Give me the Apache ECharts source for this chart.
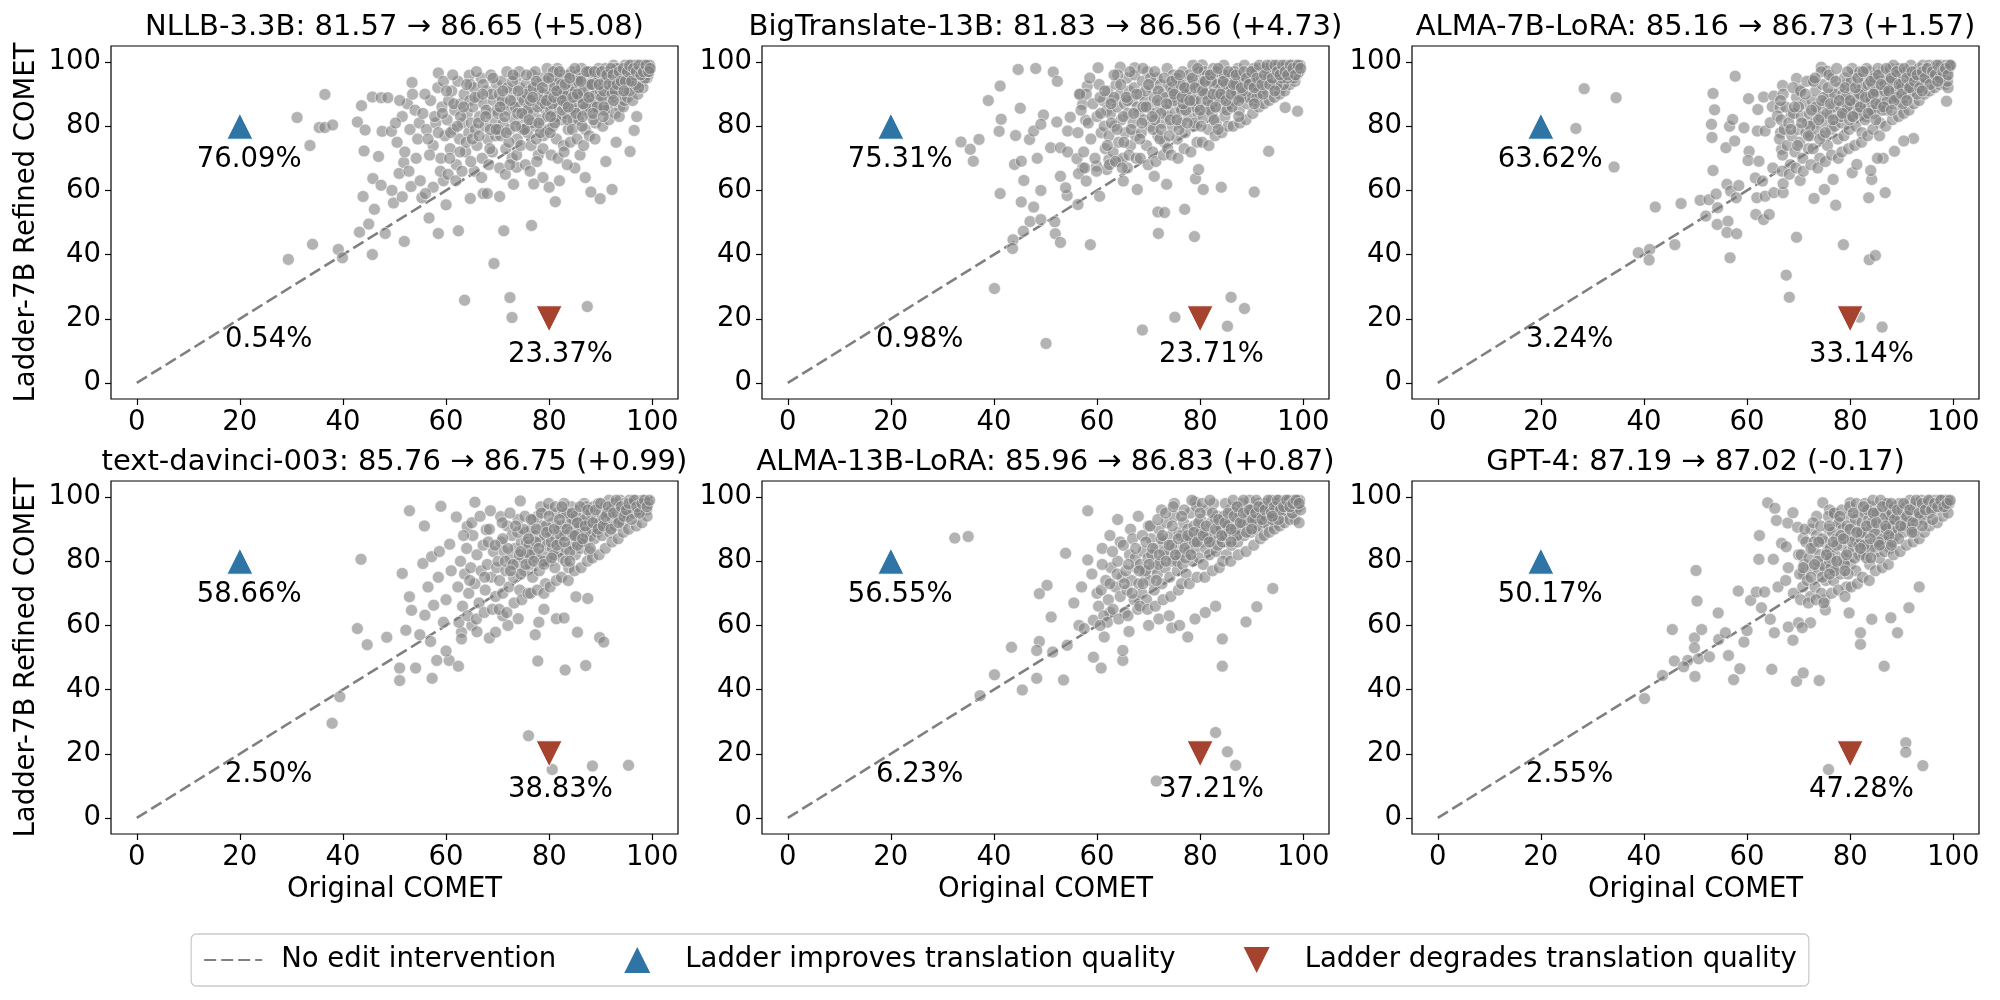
<!DOCTYPE html>
<html>
<head>
<meta charset="utf-8">
<script src="https://cdn.jsdelivr.net/npm/echarts@6/dist/echarts.min.js"></script>
<style>
  html, body { margin: 0; padding: 0; background: #fff; }
  #chart { width: 2000px; height: 1000px; }
</style>
</head>
<body>
<div id="chart"></div>
<script>
// panel titles: model name, COMET before and after refinement
const models = ["NLLB-3.3B", "BigTranslate-13B", "ALMA-7B-LoRA", "text-davinci-003", "ALMA-13B-LoRA", "GPT-4"];
const cometBefore = [81.57, 81.83, 85.16, 85.76, 85.96, 87.19];
const cometAfter = [86.65, 86.56, 86.73, 86.75, 86.83, 87.02];

// share of sentences improved / unchanged / degraded
const improvePct = ["76.09%", "75.31%", "63.62%", "58.66%", "56.55%", "50.17%"];
const tiePct = ["0.54%", "0.98%", "3.24%", "2.50%", "6.23%", "2.55%"];
const degradePct = ["23.37%", "23.71%", "33.14%", "38.83%", "37.21%", "47.28%"];

const axisTicks = [0, 20, 40, 60, 80, 100];

// [original COMET, refined COMET] per sentence
const nllbPts = [
  [36.5,89.9],[31.1,82.7],[35.4,79.6],[36.5,79.6],[38,80.4],[33.6,74],[29.4,38.5],[34.1,43.2],[39.1,41.6],[39.9,39],
  [45.7,40],[43.2,47],[45,49.5],[48.2,46.6],[51.9,44.1],[58.5,46.6],[62.4,47.4],[71.2,47.4],[76.6,49.1],[69.3,37.2],
  [63.6,25.8],[72.4,26.6],[72.8,20.4],[87.4,23.8],[81.2,56.5],[88.1,59.5],[89.9,57.4],[92.2,60.3],[95.7,72.1],[96.5,78.7],
  [78.8,64],[73.7,67.2],[73.1,61.9],[70.4,58.1],[67.2,59],[68,59],[64.7,57.5],[60,55.5],[56.7,51.4],[43.6,86.4],
  [45.7,89.1],[47.4,88.9],[48.7,88.9],[42.8,81.3],[44.3,78.8],[47.6,78.4],[49.4,78.4],[44.1,72.3],[46.9,70.6],[45.8,63.7],
  [47.4,61.6],[43.9,58.1],[46.1,54.1],[49.8,56.1],[50.9,65.3],[51.8,68.7],[53.2,61.2],[55.3,57.7],[53.4,93.6],[58.5,96.6],
  [64.5,95.9],[51.5,83],[52.5,87],[53,79],[54,85],[54.5,76],[50.5,75],[52,72],[53.5,90],[54.8,81],
  [51,88],[50.2,81],[52.8,66],[54.2,70],[55,63],[49.5,60],[51.5,58],[57.5,61],[59.5,63],[56,59],
  [82,63],[85,67],[87,64],[91,69],[80,61],[83.5,68],[77,62],[86,71],[93,75],[97,83],
  [55.5,84],[56.2,79],[57,88],[57.5,74],[58,81],[58.4,92],[59,70],[59.2,86],[59.8,77],[56.8,71],[58.9,66],[55.9,90],[57.8,83],[59.5,94],[56.5,76],
  [60.2,82],[60.5,88],[60.8,73],[61.1,91],[61.4,79],[61.7,85],[62,68],[62.3,94],[62.6,76],[62.9,87],[63.2,81],[63.5,90],[63.8,72],[64.1,84],[64.4,78],
  [64.7,93],[60.4,65],[61.9,63],[63.1,66],[64.6,88],[61.3,96],[62.8,83],[63.9,75],[64.9,81],[60.9,78],
  [65.2,86],[65.4,92],[65.7,79],[66,74],[66.2,89],[66.5,83],[66.8,95],[67,70],[67.3,87],[67.6,80],[67.9,91],[68.1,76],[68.4,84],[68.7,96],[69,72],
  [69.2,88],[69.5,81],[69.8,93],[65.5,66],[66.9,64],[68.3,68],[69.6,77],[65.9,97],[67.8,85],[66.3,81],[68.9,90],[69.9,85],[65.1,76],[67.2,93],[68.6,79],
  [70.1,84],[70.3,90],[70.6,77],[70.8,94],[71.1,81],[71.3,87],[71.6,73],[71.8,97],[72.1,85],[72.3,79],[72.6,91],[72.8,70],[73.1,88],[73.3,82],[73.6,95],
  [73.8,76],[74.1,86],[74.3,92],[74.6,80],[74.8,89],[70.4,67],[71.5,65],[72.4,68],[73.7,71],[74.5,74],[70.9,88],[71.9,92],[72.9,94],[73.4,86],[74.2,97],
  [70.2,79],[71.4,83],[72.2,75],[73.9,84],[74.9,79],
  [75.1,88],[75.3,83],[75.5,93],[75.8,78],[76,86],[76.2,91],[76.5,74],[76.7,96],[77,84],[77.2,89],[77.4,80],[77.7,93],[77.9,71],[78.2,87],[78.4,82],
  [78.6,95],[78.9,77],[79.1,90],[79.4,85],[79.6,98],[75.4,68],[76.3,66],[77.6,69],[78.8,73],[79.8,79],[75.7,90],[76.6,81],[77.3,97],[78.1,91],[79.3,94],
  [75.9,85],[76.9,92],[77.8,86],[78.5,88],[79.7,83],[75.2,79],[76.4,88],[77.5,76],[78.3,78],[79.2,87],
  [80.1,90],[80.3,85],[80.5,95],[80.7,80],[81,88],[81.2,93],[81.4,76],[81.6,98],[81.9,86],[82.1,91],[82.3,82],[82.5,96],[82.8,74],[83,89],[83.2,84],
  [83.4,94],[83.7,79],[83.9,92],[84.2,87],[84.4,97],[84.7,82],[84.9,90],[80.4,71],[81.7,70],[82.9,72],[84.1,75],[80.9,92],[81.3,83],[82.2,88],[83.5,91],
  [84.6,93],[80.2,78],[81.8,95],[82.6,85],[83.3,87],[84.8,85],[80.6,87],[81.1,81],[82.4,93],[83.8,96],[84.3,90],[80.8,97],[82.7,90],[83.6,82],[84.5,79],
  [85.1,91],[85.3,87],[85.5,96],[85.7,82],[85.9,93],[86.1,89],[86.3,98],[86.5,85],[86.8,92],[87,79],[87.2,95],[87.4,88],[87.6,91],[87.9,84],[88.1,97],
  [88.3,90],[88.5,86],[88.7,94],[89,81],[89.2,92],[89.4,88],[89.6,98],[89.8,95],[85.4,76],[86.7,74],[87.8,77],[88.9,76],[85.2,84],[86,95],[86.9,89],
  [87.5,93],[88.2,87],[89.1,90],[89.9,91],[85.8,89],[86.4,80],[87.1,86],[88.4,96],[89.5,85],[85.6,94],[86.6,91],[87.7,97],[88.6,82],[89.3,94],[88,93],
  [90.1,92],[90.3,96],[90.5,88],[90.7,94],[90.9,98],[91.1,85],[91.3,93],[91.5,90],[91.7,97],[91.9,87],[92.1,95],[92.3,92],[92.5,99],[92.7,89],[92.9,94],
  [93.1,96],[93.3,91],[93.5,98],[93.7,86],[93.9,93],[94.1,97],[94.3,90],[94.5,95],[94.7,99],[94.9,92],[90.4,80],[91.6,82],[92.8,84],[93.6,83],[94.4,86],
  [90.2,89],[91,95],[91.8,91],[92.6,96],[93.4,94],[94.2,93],[94.8,97],[90.6,91],[91.4,97],[92.2,90],[93,98],[93.8,95],[94.6,88],[90.8,85],[92.4,93],
  [95.1,96],[95.3,93],[95.5,98],[95.7,95],[95.9,99],[96.1,91],[96.3,97],[96.5,94],[96.7,99],[96.9,96],[97.1,93],[97.3,98],[97.5,95],[97.7,99],[97.9,97],
  [98.1,94],[98.3,99],[98.5,96],[98.7,98],[98.9,97],[99.1,99],[99.3,98],[99.5,99],[95.2,89],[96.2,88],[97.2,90],[98.2,92],[99,95],[95.6,91],[96.8,93],
  [97.6,96],[98.4,97],[99.2,96],[95.4,94],[96.6,96],[97.4,92],[98.6,95],[99.4,97],[95.8,97],[98,98],
  [58.5,78],[59.3,84],[60.1,91],[60.7,70],[61.5,87],[62.2,80],[62.7,72],[63.4,86],[64,93],[64.8,69],[65.6,89],[66.4,77],[67.1,90],[67.7,83],[68.5,73],
  [69.1,95],[69.7,79],[70.5,86],[71,91],[71.7,78],[72.5,88],[73,96],[73.5,80],[74,91],[74.7,84],[75.6,96],[76.1,82],[76.8,89],[77.5,94],[78,81],
  [78.7,92],[79.5,88],[79.9,95],[80.3,83],[80.9,89],[81.5,91],[82,97],[82.6,88],[83.1,93],[83.7,86],[84,95],[84.6,89],[85,98],[85.5,90],[86.2,94],
  [86.6,87],[87.3,97],[87.7,89],[88.3,93],[88.8,97],[89.3,86],[89.7,93],[90.2,97],[90.6,86],[91.2,96],[91.6,93],[92,98],[92.4,96],[92.8,91],[93.2,93],
  [93.6,97],[94,94],[94.4,98],[94.8,94],[95.2,97],[95.6,99],[96,94],[96.4,98],[96.9,97],[97.4,99],[97.8,96],[98.3,97],[98.8,99],[99.3,97],[99.6,98],
  [86.5,83],[88.5,84],[90.5,83],[92.5,88],[94.5,91]
];

const bigtransPts = [
  [44.7,97.7],[48.1,98],[51.5,96.9],[52.3,94],[41.2,92.5],[38.9,88],[45.1,85.6],[41.4,82.2],[41,78.4],[44.2,77.1],
  [46.9,75.9],[47.7,78.5],[49.6,83.5],[49.1,80.6],[52.2,81.3],[33.6,75.1],[37.1,75.9],[35.4,72.8],[36,69.1],[44,68.1],
  [45.3,69.1],[48.4,70],[45.8,63.1],[41.2,59],[49.1,60],[45.3,56.4],[47.7,54.8],[47,50.3],[49.1,50.9],[51.8,50.2],
  [51.9,46.5],[52.9,43.8],[45.7,47.3],[43.7,44.6],[43.6,41.9],[40.1,29.4],[50.1,12.3],[58.7,43.1],[54.2,58.4],[56.3,55.6],
  [60.5,58.2],[71.8,53.3],[73.1,53.1],[77,54.1],[71.9,46.6],[78.9,45.6],[67.8,60.3],[73.5,61.9],[80.6,60.3],[84.1,61],
  [90.5,59.5],[93.3,72.2],[98.9,84.7],[96.5,85.8],[68.8,16.5],[75.1,20.5],[86,26.7],[88.6,23.2],[85.3,17.7],[79.1,63.6],
  [79.7,66.5],[71.1,64.4],[65.1,62.9],[60.2,98.2],[64.5,98.4],[67.3,98.2],[80.4,99.1],[56.7,89.9],[58.1,92.5],[57.2,86.8],
  [57.8,81.9],[54.8,82.8],[54.3,78.5],[51,73.3],[52.9,73.3],[54.3,72],[56.1,69.9],[57.2,67],[52.9,64.4],[53.9,60.8],
  [56.4,65.2],[57.9,62.9],[59.9,67.6],[61.9,66.5],[62.3,69.6],[64.1,69.1],[65.9,67],
  [56.3,78],[56.9,85],[57.4,72],[57.9,90],[58.3,81],[58.8,76],[59.2,87],[59.6,70],[60,83],[60.4,93],[60.8,78],[61.2,88],[61.6,73],[61.9,85],[56.6,90],
  [57.6,67],[59.9,66],[61.4,80],[58.6,95],[60.6,89],
  [62.1,91],[62.3,77],[62.6,84],[62.9,88],[63.1,72],[63.4,80],[63.7,93],[63.9,86],[64.2,75],[64.5,90],[64.7,82],[65,70],[65.3,87],[65.5,78],[65.8,95],
  [66,84],[66.3,91],[66.5,74],[66.8,88],[67,81],[67.3,96],[67.5,77],[67.8,86],[62.4,68],[63.6,69],[64.9,67],[66.2,71],[67.6,70],[62.8,81],[64,96],
  [65.1,83],[66.6,79],[67.2,92],[63.3,89],[65.9,88],
  [68.1,84],[68.3,90],[68.6,78],[68.8,94],[69.1,82],[69.3,88],[69.6,74],[69.8,97],[70.1,86],[70.3,80],[70.6,92],[70.8,72],[71.1,89],[71.3,84],[71.6,95],
  [71.8,77],[72.1,87],[72.3,93],[72.6,81],[72.8,90],[73.1,75],[73.3,85],[73.6,98],[73.8,83],[68.4,70],[69.9,68],[71.4,69],[72.9,71],[73.7,73],[68.9,86],
  [70.4,95],[71.9,91],[72.4,84],[73.4,89],[69.4,91],[70.9,79],[72.2,76],[73.9,93],[68.7,81],[71.2,82],
  [74.1,87],[74.3,92],[74.6,80],[74.8,96],[75.1,84],[75.3,89],[75.6,76],[75.8,93],[76.1,86],[76.3,81],[76.6,97],[76.8,90],[77.1,78],[77.3,88],[77.6,94],
  [77.8,83],[78.1,91],[78.3,86],[78.6,99],[78.8,80],[79.1,89],[79.3,94],[79.6,84],[79.8,92],[74.4,71],[75.7,70],[76.9,73],[78.2,72],[79.4,75],[74.9,88],
  [75.4,95],[76.4,85],[77.4,91],[78.4,93],[79.2,86],[74.2,82],[75.9,79],[77.2,85],[78.7,88],[79.7,97],[74.7,91],[76.2,93],[77.9,96],[79,81],[76.7,87],
  [80.1,88],[80.3,93],[80.6,83],[80.8,97],[81.1,86],[81.3,91],[81.6,79],[81.8,95],[82.1,89],[82.3,84],[82.6,98],[82.8,92],[83.1,81],[83.3,90],[83.6,95],
  [83.8,86],[84.1,93],[84.3,88],[84.6,99],[84.8,83],[85.1,91],[85.3,96],[85.6,87],[85.8,94],[80.4,75],[81.7,74],[82.9,77],[84.2,78],[85.4,80],[80.9,90],
  [81.4,96],[82.4,87],[83.4,93],[84.4,91],[85.2,85],[80.2,80],[81.9,85],[83.2,97],[84.7,96],[85.9,89],[80.7,94],[82.2,94],[83.7,89],[85,93],[82.7,82],
  [86.1,92],[86.3,96],[86.6,88],[86.8,94],[87.1,90],[87.3,98],[87.6,85],[87.8,93],[88.1,96],[88.3,89],[88.6,99],[88.8,92],[89.1,87],[89.3,95],[89.6,91],
  [89.8,97],[90.1,93],[90.3,88],[90.6,96],[90.8,91],[91.1,98],[91.3,94],[91.6,90],[91.8,97],[86.4,80],[87.7,81],[88.9,82],[90.2,84],[91.4,86],[86.9,91],
  [87.4,95],[88.4,94],[89.4,89],[90.4,98],[91.2,92],[86.2,86],[87.9,89],[89.2,93],[90.7,94],[91.9,95],[86.7,97],[88.2,91],[89.7,94],[91,89],[87,93],
  [92.1,96],[92.3,93],[92.6,98],[92.8,95],[93.1,91],[93.3,97],[93.6,94],[93.8,99],[94.1,96],[94.3,92],[94.6,98],[94.8,95],[95.1,99],[95.3,94],[95.6,97],
  [95.8,92],[96.1,98],[96.3,95],[96.6,99],[96.8,97],[97.1,94],[97.3,98],[97.6,96],[97.8,99],[98.1,97],[98.3,98],[98.6,99],[98.8,96],[99.1,98],[99.4,99],
  [92.4,87],[93.4,88],[94.4,89],[95.4,90],[96.4,91],[97.4,93],[98.4,94],[92.2,90],[93.2,95],[94.2,97],[95.2,96],[96.2,93],[97.2,97],[98.2,95],[99.2,97],
  [92.9,98],[94.9,93],[96.9,95],[98.9,98],[95.9,95],
  [60.7,84],[61.5,91],[62,74],[62.7,87],[63.3,96],[63.9,79],[64.6,93],[65.2,75],[65.7,89],[66.4,97],[67.1,84],[67.7,90],[68.3,76],[68.9,98],[69.5,86],
  [70,93],[70.7,83],[71.2,97],[71.7,88],[72.4,79],[73,95],[73.5,87],[74,77],[74.5,94],[75,90],[75.5,82],[76,96],[76.5,89],[77,92],[77.5,81],
  [78,88],[78.5,95],[79,92],[79.5,98],[80,85],[80.5,91],[81,94],[81.5,88],[82,96],[82.5,90],[83,86],[83.5,98],[84,90],[84.5,94],[85,88],
  [85.5,97],[86,90],[86.5,93],[87,96],[87.5,88],[88,92],[88.5,97],[89,95],[89.5,93],[90,97],[90.5,92],[91,95],[91.5,99],[92,93],[92.5,96],
  [93,99],[93.5,93],[94,95],[94.5,99],[95,97],[95.5,96],[96,99],[96.5,97],[97,96],[97.5,99],[98,98],[98.5,96],[99,99],[99.5,98],
  [83.5,79],[87.5,83],[90.5,87],[94.5,91]
];

const alma7Pts = [
  [28.4,91.7],[34.6,88.9],[26.8,79.3],[34.2,67.3],[42.2,54.8],[47.2,55.9],[50.9,56.9],[52.6,57.1],[52,52],[54.2,49.4],
  [56.3,50.4],[56.1,46.9],[58,46.5],[56.7,39],[54,58.9],[56.1,61.9],[56.8,59.8],[58.4,61.5],[57.9,57.7],[54.3,54.6],
  [38.9,40.6],[41.1,41.6],[41,38.3],[46,43.1],[61.7,52.5],[63.2,50.9],[64.3,52.5],[61.9,57.7],[63.5,58.2],[65.2,59.3],
  [67,59.3],[69.6,45.4],[67.6,33.6],[68.2,26.7],[78.7,43.1],[83.7,38.4],[84.9,39.7],[81.8,20.5],[86.2,17.4],[73,57.5],
  [77.2,55.4],[83.6,57.7],[86.8,59.3],[84.2,63.4],[75,60.3],[76.7,63.4],[70.3,63.1],[53.4,90.2],[53.7,85.1],[57.7,95.6],
  [53.1,80.6],[53.2,76.5],[53.4,66.2],[55.9,73.3],[56.6,80],[57.2,82.1],[57.6,75.4],[59.4,79.5],[60.3,88.6],[63.2,89.1],
  [65.2,89.4],[66.9,92.7],[64.9,86.1],[66.4,85.8],[62.1,85.2],[62,78.5],[63.5,78.5],[64.5,81.1],[65.9,83.2],[66.5,78],
  [68.6,83.7],[69.6,94.9],[70.2,91.5],[72.7,94.3],[74.4,98.4],[75.5,97.2],[60.4,72.2],[60.2,69.3],[62.3,69.1],[61.6,63.9],
  [63,62.9],[65,67],[66.7,72.8],[67,62.1],[98.7,87.8],[92.3,76.2],[90.4,75.4],[88.6,72.2],[86.4,70],[85.3,70],
  [84,66.2],[80.4,65.5],[81.3,68.1],
  [66.3,76],[66.6,82],[66.9,71],[67.2,79],[67.5,86],[67.8,74],[68.1,81],[68.4,68],[68.7,77],[69,84],[69.3,72],[69.6,89],[69.9,79],[70.2,75],[70.5,83],
  [70.8,70],[71.1,87],[71.4,78],[71.7,81],[66.8,66],[68.2,65],[69.5,67],[70.9,66],[71.9,73],[67,90],[68.9,92],[70.4,91],[71.6,94],[66.5,88],[70,86],
  [72.1,84],[72.3,77],[72.6,88],[72.8,73],[73.1,81],[73.3,91],[73.6,79],[73.8,85],[74.1,70],[74.3,83],[74.6,93],[74.8,77],[75.1,87],[75.3,81],[75.6,74],
  [75.8,90],[76.1,84],[76.3,79],[76.6,95],[76.8,86],[77.1,82],[77.3,88],[77.6,76],[77.8,92],[72.4,68],[73.7,67],[75.2,69],[76.4,71],[77.7,70],[72.9,94],
  [74.4,97],[75.9,96],[77.4,98],[73.4,86],[74.9,89],[76.9,90],[72.2,80],[74.1,76],[75.5,84],[77,80],
  [78.1,86],[78.3,81],[78.6,90],[78.8,77],[79.1,84],[79.3,93],[79.6,88],[79.8,79],[80.1,86],[80.3,91],[80.6,83],[80.8,96],[81.1,80],[81.3,88],[81.6,93],
  [81.8,85],[82.1,90],[82.3,78],[82.6,87],[82.8,95],[83.1,83],[83.3,91],[83.6,86],[83.8,97],[78.4,72],[79.7,73],[80.9,74],[82.2,75],[83.4,77],[78.9,95],
  [80.4,98],[81.9,97],[83.2,98],[79.2,89],[80.7,87],[82.4,92],[83.9,89],[78.2,83],[79.9,82],[81.4,84],[82.9,82],[80.2,94],[81.7,90],[83.5,93],[79.4,86],
  [84.1,88],[84.3,93],[84.6,84],[84.8,96],[85.1,90],[85.3,86],[85.6,94],[85.8,81],[86.1,91],[86.3,97],[86.6,88],[86.8,93],[87.1,85],[87.3,95],[87.6,90],
  [87.8,98],[88.1,87],[88.3,93],[88.6,96],[88.8,89],[89.1,94],[89.3,91],[89.6,98],[89.8,86],[84.4,79],[85.7,77],[86.9,80],[88.2,82],[89.4,83],[84.9,91],
  [85.4,98],[86.4,94],[87.4,92],[88.4,99],[89.2,96],[84.2,85],[85.9,87],[87.2,88],[88.7,91],[89.9,93],[84.7,95],[86.2,85],[87.7,94],[89,89],[86.7,91],
  [90.1,92],[90.3,95],[90.6,89],[90.8,97],[91.1,93],[91.3,90],[91.6,96],[91.8,99],[92.1,94],[92.3,91],[92.6,97],[92.8,95],[93.1,92],[93.3,98],[93.6,96],
  [93.8,94],[94.1,99],[94.3,97],[94.6,93],[94.8,98],[95.1,96],[95.3,99],[95.6,95],[95.8,97],[96.1,98],[96.3,94],[96.6,99],[96.8,96],[97.1,98],[97.3,97],
  [97.6,99],[97.8,95],[98.1,98],[98.3,97],[98.6,99],[98.8,96],[99.1,98],[99.3,99],[90.4,84],[91.4,85],[92.4,87],[93.4,88],[94.4,90],[95.4,91],[96.4,92],
  [97.4,93],[98.4,93],[99,92],[90.2,87],[91.7,92],[93,90],[94.7,95],[96,95],[97.5,96],[98.9,94],
  [68.5,79],[69.2,86],[69.8,74],[70.6,81],[71.3,90],[71.9,77],[72.5,85],[73.2,95],[73.9,82],[74.5,88],[75.2,78],[75.7,92],[76.2,87],[76.7,82],[77.2,94],
  [77.9,88],[78.5,84],[79,92],[79.5,97],[80,88],[80.5,83],[81,92],[81.5,95],[82,86],[82.5,97],[83,89],[83.5,84],[84,94],[84.5,90],[85,87],
  [85.5,96],[86,93],[86.5,86],[87,98],[87.5,91],[88,95],[88.5,88],[89,97],[89.5,93],[90,90],[90.5,98],[91,95],[91.5,92],[92,97],[92.5,94],
  [93,96],[93.5,92],[94,97],[94.5,95],[95,98],[95.5,93],[96,97],[96.5,96],[97,99],[97.5,95],[98,97],[98.5,98],[99,96],[99.5,99],
  [85,82],[88,85],[91,88],[94,91],[97,94]
];

const davinciPts = [
  [43.5,80.6],[52.9,95.7],[59,97.1],[65.6,98.4],[74.4,98.8],[55.8,91],[51.5,76.2],[42.8,59],[44.7,54],[39.4,37.8],
  [37.9,29.5],[51,46.7],[51,42.8],[54.1,46.7],[57.3,43.5],[58.2,49.1],[60.6,49.1],[62.4,47.3],[48.5,56.3],[52.2,58.5],
  [54.9,57.1],[52.9,68.9],[53.3,64.7],[55.9,63.2],[57.6,66.3],[55.5,79.3],[57.2,81.4],[58.7,83],[60.7,85.3],[62,93.8],
  [64.1,90.8],[67.8,89.8],[68.6,95.7],[70.6,93.9],[63,57.9],[63,55.8],[68.4,56.1],[69.6,57.9],[77.3,57.1],[77.8,48.9],
  [83.1,46.1],[87.1,47.5],[85.5,57.9],[89.8,56.2],[90.6,54.8],[76,25.6],[80.6,15.1],[88.4,16.2],[95.4,16.4],[81.4,62.1],
  [82.9,62.3],[74,62.1],[85.2,68.9],[87.5,68.4],[56.5,72],[58.5,75],[60,68],[59.5,61],[61,77],[57,55],
  [60,52],[65,60],[66,58],[72,60],[71,63],[79,65],[78,61],
  [62.3,72],[62.8,80],[63.2,66],[63.6,76],[64,84],[64.4,70],[64.8,78],[65.2,88],[65.6,73],[66,82],[66.4,67],[66.8,77],[67.2,85],[67.6,71],[68,79],
  [68.4,90],[68.8,75],[69.2,83],[69.6,69],[62.5,61],[64.2,63],[65.9,62],[67.4,64],[69,65],[63.4,88],[65,92],[66.6,94],[68.2,86],[69.8,78],[64.6,74],
  [70.1,80],[70.4,74],[70.7,86],[71,70],[71.3,83],[71.6,77],[71.9,91],[72.2,72],[72.5,81],[72.8,88],[73.1,75],[73.4,84],[73.7,79],[74,93],[74.3,71],
  [74.6,86],[74.9,81],[75.2,77],[75.5,89],[75.8,83],[70.3,65],[71.8,64],[73.2,67],[74.7,68],[75.9,70],[70.9,92],[72.4,95],[73.9,89],[75.3,94],[71.5,80],
  [73,79],[74.5,76],[75.6,86],[72,84],[74.2,82],
  [76.1,85],[76.3,79],[76.6,90],[76.8,75],[77.1,83],[77.3,88],[77.6,81],[77.8,94],[78.1,77],[78.3,86],[78.6,91],[78.8,82],[79.1,88],[79.3,73],[79.6,85],
  [79.8,96],[80.1,80],[80.3,89],[80.6,84],[80.8,92],[81.1,78],[81.3,87],[81.6,95],[81.8,83],[76.4,70],[77.7,71],[79,70],[80.2,72],[81.4,74],[76.9,93],
  [78.4,97],[79.9,98],[81.2,97],[77.4,86],[78.9,80],[80.4,86],[81.9,90],[76.2,82],[79.4,91],[80.9,82],
  [82.1,86],[82.3,91],[82.6,81],[82.8,95],[83.1,88],[83.3,84],[83.6,92],[83.8,78],[84.1,89],[84.3,97],[84.6,85],[84.8,93],[85.1,82],[85.3,90],[85.6,87],
  [85.8,96],[86.1,84],[86.3,92],[86.6,89],[86.8,98],[87.1,86],[87.3,94],[87.6,91],[87.8,83],[82.4,75],[83.7,74],[84.9,77],[86.2,78],[87.4,80],[82.9,98],
  [84.4,93],[85.9,91],[87.2,97],[82.2,88],[83.4,95],[84.7,88],[86.4,86],[87.9,92],[83.2,80],[85.2,94],[86.9,93],[88,88],[84,83],[85.5,85],[87,89],
  [88.1,95],[88.3,90],[88.6,97],[88.8,87],[89.1,93],[89.3,89],[89.6,98],[89.8,92],[90.1,95],[90.3,88],[90.6,93],[90.8,97],[91.1,91],[91.3,95],[91.6,99],
  [91.8,89],[92.1,96],[92.3,93],[92.6,98],[92.8,91],[93.1,95],[93.3,97],[93.6,93],[93.8,99],[94.1,96],[94.3,92],[94.6,98],[94.8,95],[95.1,97],[95.3,94],
  [95.6,99],[95.8,96],[96.1,98],[96.3,95],[96.6,97],[96.8,99],[97.1,96],[97.3,98],[97.6,97],[97.8,95],[98.1,99],[98.3,97],[98.6,98],[98.9,96],[99.2,98],
  [88.4,81],[89.7,82],[90.9,84],[92.2,86],[93.4,87],[94.4,89],[95.4,90],[96.9,91],[98,92],[99,94],
  [74.5,83],[75,90],[75.5,79],[76,87],[76.5,93],[77,80],[77.5,90],[78,84],[78.5,95],[79,79],[79.5,89],[80,94],[80.5,81],[81,90],[81.5,85],
  [82,93],[82.5,97],[83,86],[83.5,90],[84,80],[84.5,95],[85,88],[85.5,92],[86,97],[86.5,87],[87,91],[87.5,96],[88,84],[88.5,92],[89,96],
  [89.5,90],[90,98],[90.5,91],[91,94],[91.5,97],[92,90],[92.5,95],[93,99],[93.5,92],[94,97],[94.5,94],[95,96],[95.5,98],[96,93],[96.5,99],
  [97,97],[97.5,95],[98,98],[98.5,99],[99,97],[99.5,99],[71,87],[72.5,77],[73.5,91],[69.5,85],[67.5,75]
];

const alma13Pts = [
  [32.4,87.2],[35,87.7],[58.2,95.7],[53.9,82.5],[58.2,80.4],[50.3,72.5],[48.8,69.9],[51.1,62.6],[56.5,60],[59.3,61.6],
  [43.4,53.2],[48.8,55],[48.3,52.2],[51.4,51.7],[54.2,53.8],[40.1,44.6],[45.5,39.9],[48.3,43.5],[53.5,43],[37.3,38.1],
  [59.3,50.1],[60.8,46.7],[65,49.1],[65,52.2],[61.4,56.4],[66.2,58.1],[83,26.6],[85.3,20.6],[86.9,16.4],[71.5,11.5],
  [84.3,55.8],[84.3,47.3],[88.9,61.1],[91,65.8],[94.1,71.5],[77.6,56.4],[74.5,59.2],[64,93],[66.5,90],[68,94],
  [70,91],[72.5,96],[75,98],[79,98.5],[62.5,88],[64.5,86],[61,84],[59,76],[57,72],[55.5,67],
  [60,70],[62.5,64],[57.5,59],[70,60],[72,62],[74,63],[76,60],[79,62],[81,64],[83,66],
  [60.3,66],[60.8,71],[61.3,63],[61.7,74],[62.2,68],[62.7,78],[63.1,65],[63.6,72],[64,80],[64.5,69],[64.9,75],[65.4,64],[65.8,71],[66.3,82],[66.7,74],
  [67.2,68],[67.6,78],[62,61],[64.2,62],[66,63],[67.9,65],[61,79],[63,83],[65.1,85],[66.9,87],[60.6,60],[63.9,76],[65.6,77],[67.4,81],[62.5,73],
  [68.1,73],[68.4,79],[68.7,70],[69,83],[69.3,76],[69.6,68],[69.9,81],[70.2,74],[70.5,87],[70.8,78],[71.1,71],[71.4,84],[71.7,76],[72,90],[72.3,80],
  [72.6,73],[72.9,86],[73.2,78],[73.5,92],[73.8,82],[74.1,75],[74.4,88],[74.7,80],[75,94],[75.3,84],[75.6,77],[75.9,89],[68.3,66],[69.8,65],[71.3,66],
  [72.8,68],[74.3,69],[75.8,71],[68.8,88],[70.3,91],[71.8,93],[73.3,95],[74.8,97],[69.4,77],[70.6,82],[71.9,79],[73,83],[74.5,85],[75.5,80],[72.4,87],
  [76.1,82],[76.3,88],[76.6,79],[76.8,92],[77.1,85],[77.3,76],[77.6,90],[77.8,83],[78.1,95],[78.3,87],[78.6,80],[78.8,91],[79.1,84],[79.3,97],[79.6,88],
  [79.8,81],[80.1,93],[80.3,86],[80.6,79],[80.8,90],[81.1,84],[81.3,96],[81.6,88],[81.8,82],[82.1,92],[82.3,86],[82.6,98],[82.8,89],[83.1,83],[83.3,94],
  [83.6,87],[83.8,91],[76.4,73],[77.9,73],[79.4,75],[80.9,75],[82.4,77],[83.7,78],[76.9,96],[78.4,99],[80.4,98],[81.9,99],[77.4,87],[78.9,86],[80.2,89],
  [81.4,87],[82.9,93],[83.4,85],[79.7,92],[77.2,81],
  [84.1,90],[84.3,86],[84.6,94],[84.8,88],[85.1,82],[85.3,92],[85.6,89],[85.8,96],[86.1,85],[86.3,91],[86.6,88],[86.8,97],[87.1,93],[87.3,86],[87.6,95],
  [87.8,90],[88.1,98],[88.3,93],[88.6,88],[88.8,96],[89.1,91],[89.3,94],[89.6,99],[89.8,89],[90.1,95],[90.3,92],[90.6,97],[90.8,90],[91.1,94],[91.3,98],
  [91.6,93],[91.8,96],[84.4,80],[85.9,80],[87.4,82],[88.9,83],[90.4,85],[91.7,87],[84.9,98],[86.4,99],[88.4,99],[90.9,99],[85.4,91],[86.9,90],[88.2,92],
  [89.4,92],[90.7,93],[91.4,91],[87.2,88],[89.9,96],
  [92.1,95],[92.3,92],[92.6,98],[92.8,94],[93.1,97],[93.3,91],[93.6,96],[93.8,99],[94.1,94],[94.3,97],[94.6,92],[94.8,98],[95.1,95],[95.3,99],[95.6,97],
  [95.8,94],[96.1,98],[96.3,96],[96.6,99],[96.8,95],[97.1,97],[97.3,99],[97.6,96],[97.8,98],[98.1,97],[98.3,99],[98.6,96],[98.8,98],[99.1,97],[99.3,99],
  [92.4,88],[93.4,89],[94.4,90],[95.4,91],[96.4,92],[97.4,93],[98.4,93],[99.2,92],[92.2,97],[93.9,93],[95.2,93],[96.7,97],[97.9,95],[98.9,99],[99.5,96],
  [65.3,73],[66.1,79],[66.8,70],[67.5,84],[68.2,77],[68.9,73],[69.5,86],[70.1,79],[70.8,84],[71.5,74],[72.1,82],[72.7,88],[73.4,80],[74,85],[74.6,91],
  [75.2,82],[75.8,87],[76.4,94],[77,84],[77.6,88],[78.2,82],[78.8,89],[79.4,86],[80,95],[80.6,88],[81.2,91],[81.8,86],[82.4,95],[83,90],[83.6,93],
  [84.2,88],[84.8,92],[85.4,95],[86,90],[86.6,94],[87.2,97],[87.8,92],[88.4,95],[89,89],[89.6,96],[90.2,93],[90.8,95],[91.4,97],[92,93],[92.6,96],
  [93.2,99],[93.8,95],[94.4,97],[95,99],[95.6,96],[96.2,97],[96.8,99],[97.4,97],[98,98],[98.6,99],[99.2,98],[86,86],[90,90],[94,94]
];

const gpt4Pts = [
  [50.1,77.1],[50.3,67.6],[45.5,58.7],[49.8,56.1],[51.2,58.7],[49.8,53],[45.9,48.9],[48.5,49.1],[50.6,49.6],[52.7,50.2],
  [54.4,63.9],[54.5,55.6],[56.4,50.6],[55.8,57.7],[59.4,54.8],[60,58.4],[58.3,70.7],[43.6,44.4],[47.7,47.1],[49.9,44.1],
  [40.1,37.2],[58.6,46.5],[57.4,43.1],[64.8,46.3],[69.6,42.6],[70.9,45.2],[74,42.8],[86.6,47.3],[82,54.1],[82,57.7],
  [89.2,57.7],[90.8,23.4],[90.8,20.5],[94.1,16.3],[75.8,15.1],[64,98.2],[65.4,96.5],[65.7,92.7],[67.9,91.9],[68.9,95.1],
  [69.8,90.6],[70.9,87.1],[62.4,88],[66.7,85.6],[67.6,84.5],[62.3,80.6],[65.1,80.6],[74.7,98.2],[80,98.2],[77.1,94.8],
  [60.7,67.8],[61.8,70.4],[63.4,70.4],[62.8,65.5],[64.5,61.9],[65.3,57.7],[68,59.5],[68.9,55.4],[70,60.8],[72.3,60.8],
  [70.7,59.3],[75.1,67.9],[75.2,64.8],[79.8,63.9],[84.2,61.9],[87.9,62.4],[91.4,65.5],[93.4,72],[66,72],[67.5,74],
  [69,70],[68,78],[70,82],[71,76],[72.5,90],[73.5,94],[76,96],[78,92],
  [70.2,76],[70.5,82],[70.8,72],[71.1,79],[71.4,86],[71.7,74],[72,81],[72.3,69],[72.6,78],[72.9,84],[73.2,72],[73.5,88],[73.8,77],[74.1,82],[74.4,70],
  [74.7,79],[75,86],[75.3,74],[75.6,83],[75.9,90],[70.4,68],[71.9,67],[73.4,68],[74.9,67],[71.2,90],[72.8,92],[74.3,91],[75.8,94],[70.9,78],[72.4,75],
  [73.7,80],[75.1,78],[73,86],[74.6,87],[76,80],
  [76.1,84],[76.3,78],[76.6,89],[76.8,74],[77.1,82],[77.3,87],[77.6,79],[77.8,92],[78.1,76],[78.3,85],[78.6,90],[78.8,81],[79.1,87],[79.3,72],[79.6,83],
  [79.8,94],[80.1,79],[80.3,88],[80.6,84],[80.8,91],[81.1,77],[81.3,86],[81.6,95],[81.8,82],[76.4,70],[77.7,71],[79,69],[80.2,72],[81.4,73],[76.9,95],
  [78.4,96],[79.9,97],[81.2,98],[77.4,85],[78.9,79],[80.4,86],[81.9,89],[76.2,81],[79.4,91],[80.9,81],[77,77],[78.2,88],[79.6,76],[81,93],[81.7,85],
  [82.1,87],[82.3,92],[82.6,82],[82.8,95],[83.1,89],[83.3,85],[83.6,93],[83.8,79],[84.1,90],[84.3,97],[84.6,86],[84.8,94],[85.1,83],[85.3,91],[85.6,88],
  [85.8,96],[86.1,85],[86.3,93],[86.6,90],[86.8,98],[87.1,87],[87.3,95],[87.6,92],[87.8,84],[82.4,75],[83.7,74],[84.9,77],[86.2,78],[87.4,79],[82.9,98],
  [84.4,99],[85.9,99],[87.2,98],[82.2,89],[83.4,96],[84.7,89],[86.4,87],[87.9,93],[83.2,81],[85.2,95],[86.9,94],[88,89],[84,84],[85.5,86],[87,90],
  [82.7,85],[84.2,92],[85.7,81],[86.7,83],[87.7,96],
  [88.1,95],[88.3,91],[88.6,97],[88.8,88],[89.1,94],[89.3,90],[89.6,98],[89.8,93],[90.1,96],[90.3,89],[90.6,94],[90.8,97],[91.1,92],[91.3,96],[91.6,99],
  [91.8,90],[92.1,97],[92.3,94],[92.6,98],[92.8,92],[93.1,96],[93.3,98],[93.6,94],[93.8,99],[94.1,97],[94.3,93],[94.6,98],[94.8,96],[95.1,98],[95.3,95],
  [95.6,99],[95.8,97],[96.1,98],[96.3,96],[96.6,99],[96.8,97],[97.1,98],[97.3,99],[97.6,97],[97.8,99],[98.1,98],[98.3,99],[98.6,97],[98.9,99],[99.2,98],
  [88.4,82],[89.7,83],[90.9,85],[92.2,86],[93.4,87],[94.4,89],[95.4,91],[96.9,92],[98,94],[99,95],[88.2,86],[89.4,87],[90.7,91],[92.4,89],[94,91],
  [72.4,84],[73.1,79],[73.9,86],[74.6,75],[75.4,82],[76,91],[76.7,86],[77.4,80],[78,94],[78.7,87],[79.3,82],[80,90],[80.6,95],[81.3,89],[82,84],
  [82.6,97],[83.2,91],[83.9,87],[84.5,95],[85.1,92],[85.7,85],[86.3,97],[86.9,91],[87.5,88],[88,98],[88.6,93],[89.2,96],[89.8,91],[90.4,98],[91,94],
  [91.6,96],[92.2,92],[92.8,99],[93.4,95],[94,98],[94.6,96],[95.2,99],[95.8,96],[96.4,98],[97,97],[97.6,99],[98.2,97],[98.8,98],[99.4,99],
  [84,81],[88,85],[92,89],[96,93],[79,77],[76,76]
];

const panelPoints = [nllbPts, bigtransPts, alma7Pts, davinciPts, alma13Pts, gpt4Pts];

// ---- layout (pixels) ----
const colLeft = [111, 762, 1412];
const rowTop = [46, 481];
const plotW = 567, plotH = 353;
const FONT = "DejaVu Sans";
const FS = 27.5;      // base font size
const FS_TITLE = 29;  // panel titles

// marker / annotation anchor points in data coordinates
const upMarkAt = [20, 80];
const downMarkAt = [80, 20];
const improveTextAt = [21.8, 69.4];
const tieTextAt = [25.6, 13.4];
const degradeTextAt = [82.2, 8.8];

const NAME_LINE = "No edit intervention";
const NAME_UP = "Ladder improves translation quality";
const NAME_DOWN = "Ladder degrades translation quality";

// legend icons: a 26px triangle inside the 58x26 legend slot
const ICON_UP = "path://M0,0M58,26M16,26L29,0L42,26Z";
const ICON_DOWN = "path://M0,0M58,26M16,0L42,0L29,26Z";

const grids = [], xAxes = [], yAxes = [], series = [], graphics = [];

function fmtDelta(a, b) {
  const d = b - a;
  return (d >= 0 ? "+" : "") + d.toFixed(2);
}

for (let i = 0; i < 6; i++) {
  const row = Math.floor(i / 3), col = i % 3;
  grids.push({
    left: colLeft[col], top: rowTop[row], width: plotW, height: plotH,
    show: true, borderColor: "#000", borderWidth: 1.2, backgroundColor: "transparent"
  });
  const axisCommon = {
    type: "value", gridIndex: i, min: -5, max: 105,
    splitLine: { show: false },
    axisLine: { show: false, onZero: false },
    axisTick: { show: true, length: 6, customValues: axisTicks, lineStyle: { color: "#000", width: 1.2 } },
    axisLabel: { customValues: axisTicks, fontSize: FS, color: "#000", fontFamily: FONT, margin: 10 }
  };
  xAxes.push(Object.assign({}, axisCommon, row === 1 ? {
    name: "Original COMET", nameLocation: "middle", nameGap: 42,
    nameTextStyle: { fontSize: FS, color: "#000", fontFamily: FONT }
  } : {}));
  yAxes.push(Object.assign({}, axisCommon, col === 0 ? {
    name: "Ladder-7B Refined COMET", nameLocation: "middle", nameGap: 70, nameRotate: 90,
    nameTextStyle: { fontSize: FS, color: "#000", fontFamily: FONT }
  } : {}));

  // diagonal: no change
  series.push({
    name: NAME_LINE, type: "line", xAxisIndex: i, yAxisIndex: i,
    data: [[0, 0], [100, 100]], symbol: "none", silent: true, z: 1,
    itemStyle: { color: "#808080" },
    lineStyle: { color: "#808080", width: 2.6, type: [12, 5] }
  });
  // sentence points
  series.push({
    name: "sentences", type: "scatter", xAxisIndex: i, yAxisIndex: i,
    data: panelPoints[i], symbolSize: 12, silent: true, z: 2,
    itemStyle: { color: "rgba(128,128,128,0.6)", borderColor: "rgba(255,255,255,0.7)", borderWidth: 0.8, opacity: 1 }
  });
  series.push({
    name: NAME_UP, type: "scatter", xAxisIndex: i, yAxisIndex: i,
    data: [upMarkAt], symbol: "triangle", symbolSize: 26, silent: true, z: 4,
    itemStyle: { color: "#2e75a6", borderColor: "#fff", borderWidth: 1, opacity: 1 }
  });
  series.push({
    name: NAME_DOWN, type: "scatter", xAxisIndex: i, yAxisIndex: i,
    data: [downMarkAt], symbol: "triangle", symbolRotate: 180, symbolSize: 26, silent: true, z: 4,
    itemStyle: { color: "#a6432e", borderColor: "#fff", borderWidth: 1, opacity: 1 }
  });
  // percentage annotations
  series.push({
    name: "pct", type: "scatter", xAxisIndex: i, yAxisIndex: i, silent: true, z: 5,
    symbolSize: 1, itemStyle: { color: "transparent", opacity: 1 },
    data: [
      { name: improvePct[i], value: improveTextAt },
      { name: tiePct[i], value: tieTextAt },
      { name: degradePct[i], value: degradeTextAt }
    ],
    label: { show: true, position: "inside", formatter: "{b}", fontSize: FS, color: "#000", fontFamily: FONT, opacity: 1 }
  });

  graphics.push({
    type: "text", x: colLeft[col] + plotW / 2, y: rowTop[row] - 19,
    style: {
      text: models[i] + ": " + cometBefore[i].toFixed(2) + " \u2192 " + cometAfter[i].toFixed(2) +
        " (" + fmtDelta(cometBefore[i], cometAfter[i]) + ")",
      fontSize: FS_TITLE, fontFamily: FONT, fill: "#000", align: "center", verticalAlign: "middle"
    }
  });
}

const chart = echarts.init(document.getElementById("chart"));
chart.setOption({
  animation: false,
  backgroundColor: "#fff",
  grid: grids,
  xAxis: xAxes,
  yAxis: yAxes,
  series: series,
  graphic: graphics,
  legend: {
    data: [
      { name: NAME_LINE, itemStyle: { color: "transparent", borderWidth: 0, opacity: 0 } },
      { name: NAME_UP, icon: ICON_UP, itemStyle: { opacity: 1, borderWidth: 0 } },
      { name: NAME_DOWN, icon: ICON_DOWN, itemStyle: { opacity: 1, borderWidth: 0 } }
    ],
    top: 934, left: "center",
    itemWidth: 58, itemHeight: 26, itemGap: 52,
    symbolKeepAspect: true, symbolRotate: 0,
    padding: [12, 12],
    borderColor: "#cccccc", borderWidth: 1.3, borderRadius: 5,
    textStyle: { fontSize: FS, color: "#000", fontFamily: FONT, padding: [0, 0, 0, 14] },
    selectedMode: false
  }
});
</script>
</body>
</html>
